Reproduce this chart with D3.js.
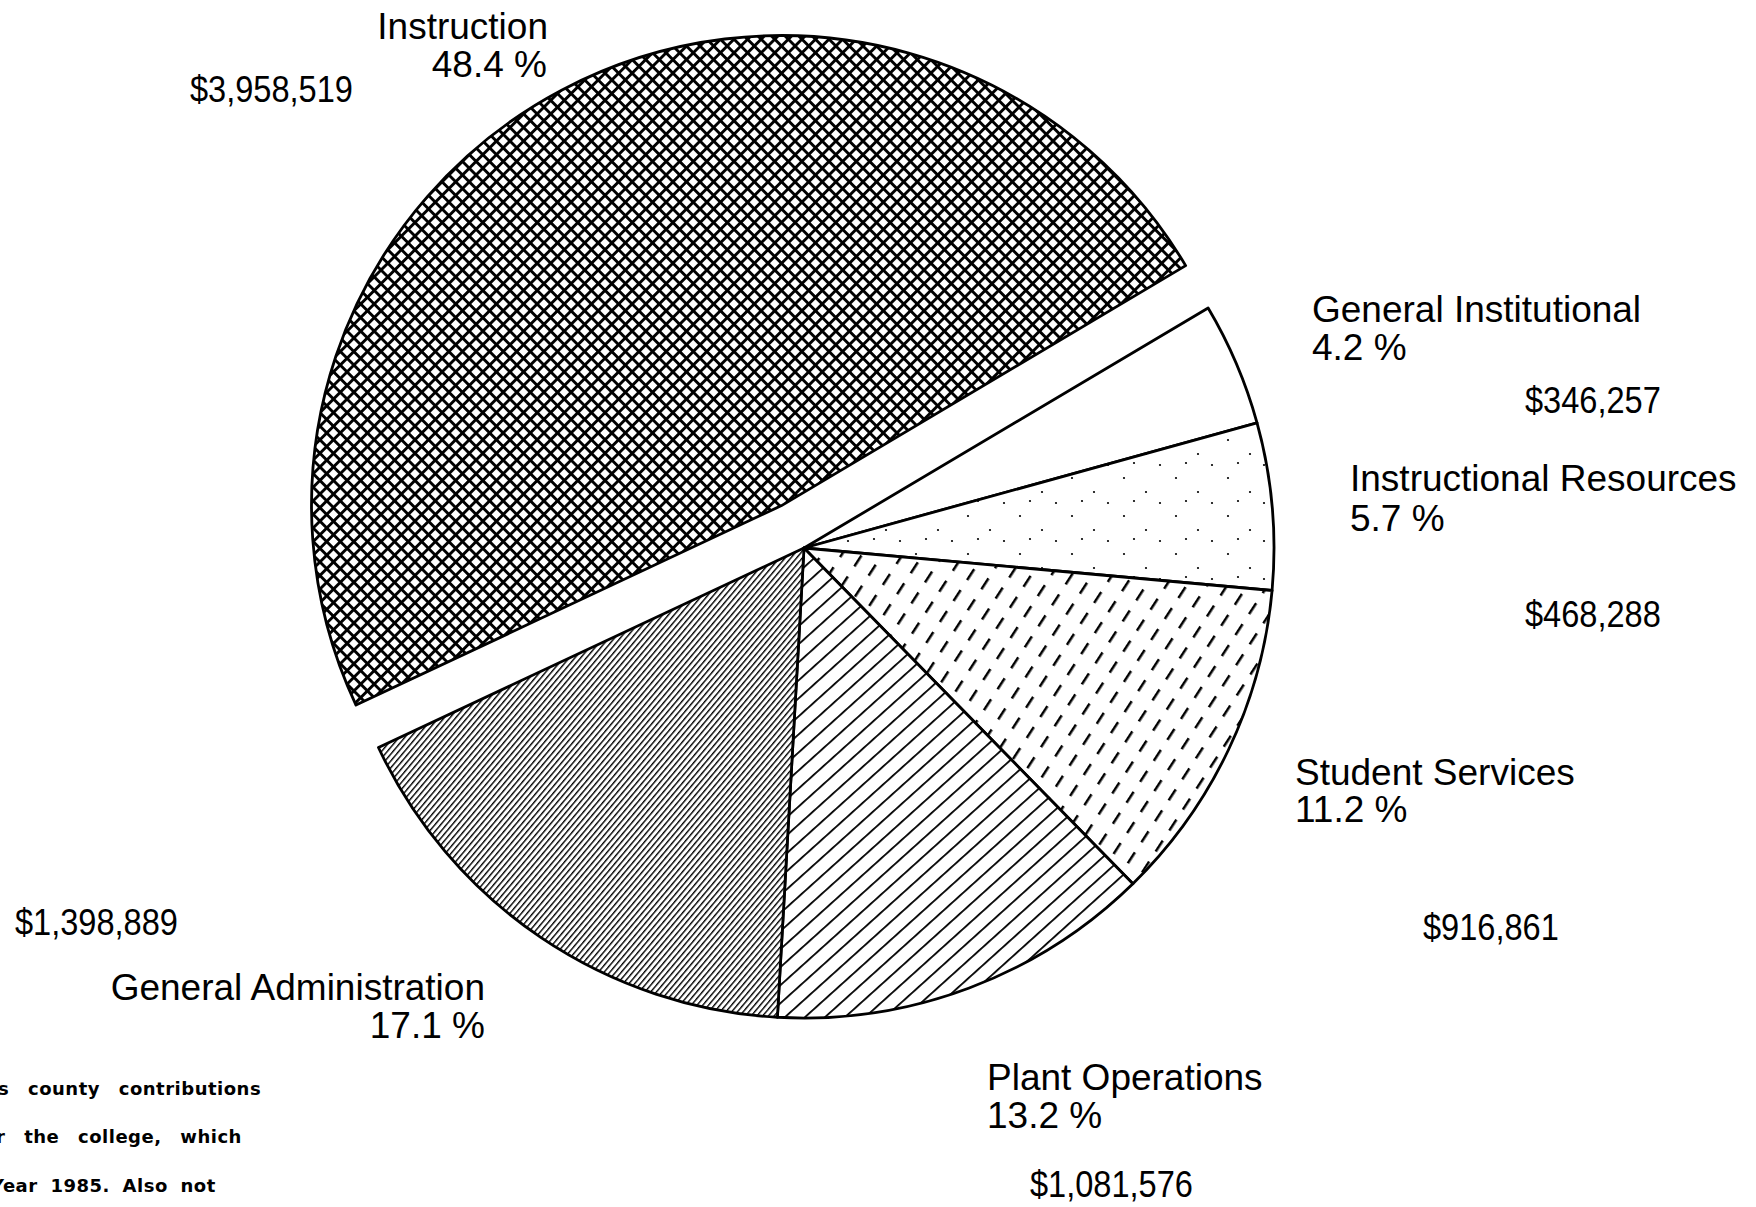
<!DOCTYPE html>
<html>
<head>
<meta charset="utf-8">
<script src="https://cdn.jsdelivr.net/npm/d3@7"></script>
<style>
  html, body { margin: 0; padding: 0; background: #fff; }
  svg { display: block; }
  text { font-family: "Liberation Sans", Arial, sans-serif; fill: #000; }
</style>
</head>
<body>
<svg id="chart" width="1756" height="1207"></svg>
<script>
// slices go clockwise from the General Institutional wedge
var categories = ['General Institutional', 'Instructional Resources', 'Student Services', 'Plant Operations', 'General Administration', 'Instruction'];
var amounts = [346257, 468288, 916861, 1081576, 1398889, 3958519];
var percentLabels = ['4.2 %', '5.7 %', '11.2 %', '13.2 %', '17.1 %', '48.4 %'];
var noteLines = ['s county contributions', 'r the college, which', 'Year 1985. Also not'];

// where each slice's labels sit: [x, y, anchor]
var labelPos = [
    { name: [1312, 322, 'start'], pct: [1312, 360, 'start'], amt: [1525, 413] },
    { name: [1350, 491, 'start'], pct: [1350, 531, 'start'], amt: [1525, 627] },
    { name: [1295, 785, 'start'], pct: [1295, 822, 'start'], amt: [1423, 940] },
    { name: [987, 1090, 'start'], pct: [987, 1128, 'start'], amt: [1030, 1197] },
    { name: [485, 1000, 'end'], pct: [485, 1038, 'end'], amt: [15, 935] },
    { name: [548, 39, 'end'], pct: [547, 77, 'end'], amt: [190, 102] }
];
var notePos = [[-2, 1095, 12], [-4, 1143, 12], [-9, 1192, 6]];

var cx = 804, cy = 548, radius = 470;
var startDeg = 59.3, explode = 48;

var svg = d3.select('#chart');
var defs = svg.append('defs');

// crosshatch for Instruction
var cs = 9.6, clw = 2.9;
var cross = defs.append('pattern').attr('id', 'crossHatch')
    .attr('patternUnits', 'userSpaceOnUse').attr('width', cs).attr('height', cs)
    .attr('patternTransform', 'rotate(45)');
cross.append('rect').attr('width', cs).attr('height', cs).attr('fill', '#fff');
cross.append('rect').attr('width', cs).attr('height', clw).attr('fill', '#000');
cross.append('rect').attr('width', clw).attr('height', cs).attr('fill', '#000');

function hatch(id, size, lw, angle) {
    var p = defs.append('pattern').attr('id', id)
        .attr('patternUnits', 'userSpaceOnUse').attr('width', size).attr('height', 10)
        .attr('patternTransform', 'rotate(' + angle + ')');
    p.append('rect').attr('width', size).attr('height', 10).attr('fill', '#fff');
    p.append('rect').attr('width', lw).attr('height', 10).attr('fill', '#000');
}
hatch('fineHatch', 4.4, 1.4, 40);
hatch('wideHatch', 13.4, 1.8, 48);

var dash = defs.append('pattern').attr('id', 'dashes')
    .attr('patternUnits', 'userSpaceOnUse').attr('width', 17).attr('height', 25)
    .attr('patternTransform', 'rotate(33)');
dash.append('rect').attr('width', 17).attr('height', 25).attr('fill', '#fff');
dash.append('rect').attr('width', 2.5).attr('height', 13).attr('fill', '#000');

var dots = defs.append('pattern').attr('id', 'dots')
    .attr('patternUnits', 'userSpaceOnUse').attr('width', 52).attr('height', 38);
dots.append('rect').attr('width', 52).attr('height', 38).attr('fill', '#fff');
[[8, 6], [30, 20], [44, 31], [18, 29]].forEach(function (c) {
    dots.append('circle').attr('cx', c[0]).attr('cy', c[1]).attr('r', 1.1).attr('fill', '#000');
});

var fills = ['#fff', 'url(#dots)', 'url(#dashes)', 'url(#wideHatch)', 'url(#fineHatch)', 'url(#crossHatch)'];

var a0 = startDeg * Math.PI / 180;
var pie = d3.pie().sort(null).value(function (d) { return d; })
    .startAngle(a0).endAngle(a0 + 2 * Math.PI);
var arcs = pie(amounts);
var arc = d3.arc().innerRadius(0).outerRadius(radius);

var g = svg.append('g').attr('transform', 'translate(' + cx + ',' + cy + ')');
g.selectAll('path.slice').data(arcs).enter().append('path')
    .attr('class', 'slice')
    .attr('d', arc)
    .attr('transform', function (d, i) {
        if (i !== 5) return null;
        var mid = (d.startAngle + d.endAngle) / 2;
        return 'translate(' + (Math.sin(mid) * explode) + ',' + (-Math.cos(mid) * explode) + ')';
    })
    .attr('fill', function (d, i) { return fills[i]; })
    .attr('stroke', '#000').attr('stroke-width', 2.8).attr('stroke-linejoin', 'round');

var fmt = d3.format('$,');
var labels = svg.append('g').style('font-size', '37px');

labels.selectAll('text.name').data(categories).enter().append('text')
    .attr('class', 'name')
    .attr('x', function (d, i) { return labelPos[i].name[0]; })
    .attr('y', function (d, i) { return labelPos[i].name[1]; })
    .attr('text-anchor', function (d, i) { return labelPos[i].name[2]; })
    .text(function (d) { return d; });

labels.selectAll('text.pct').data(percentLabels).enter().append('text')
    .attr('class', 'pct')
    .attr('x', function (d, i) { return labelPos[i].pct[0]; })
    .attr('y', function (d, i) { return labelPos[i].pct[1]; })
    .attr('text-anchor', function (d, i) { return labelPos[i].pct[2]; })
    .text(function (d) { return d; });

// the dollar figures are set in a narrower face
labels.selectAll('text.amt').data(amounts).enter().append('text')
    .attr('class', 'amt')
    .attr('transform', function (d, i) { return 'translate(' + labelPos[i].amt[0] + ',' + labelPos[i].amt[1] + ') scale(0.88,1)'; })
    .text(function (d) { return fmt(d); });

// footnote fragment, cut off at the left edge as in the scan
svg.append('g').selectAll('text').data(noteLines).enter().append('text')
    .attr('x', function (d, i) { return notePos[i][0]; })
    .attr('y', function (d, i) { return notePos[i][1]; })
    .style('word-spacing', function (d, i) { return notePos[i][2] + 'px'; })
    .style('letter-spacing', '0.5px')
    .style('font-family', '"DejaVu Sans", sans-serif')
    .style('font-weight', 'bold')
    .style('font-size', '18px')
    .text(function (d) { return d; });
</script>
</body>
</html>
